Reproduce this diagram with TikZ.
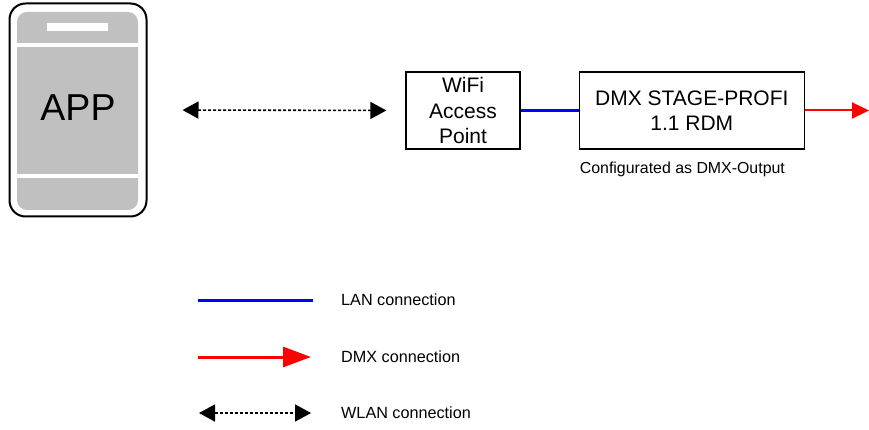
\documentclass[tikz,border=0pt]{standalone}
\usepackage{fontspec}
\setmainfont{Liberation Sans}
\usetikzlibrary{arrows.meta,positioning}
\definecolor{phonegray}{RGB}{192,192,192}
\tikzset{
  box/.style={draw, line width=1.3pt, align=center, inner sep=0pt, minimum height=77pt, font=\fontsize{21}{25.5}\selectfont},
  lan/.style={blue, line width=3pt},
  dmxline/.style={red, line width=2pt, -{Triangle[length=17pt,width=16pt]}},
  dmxkey/.style={red, line width=3pt, -{Triangle[length=28pt,width=20pt]}},
  wlan/.style={line width=1.6pt, dash pattern=on 3pt off 2pt, {Triangle[length=16pt,width=17pt]}-{Triangle[length=16pt,width=17pt]}},
  legendtext/.style={anchor=west, inner sep=0pt, font=\fontsize{16.2}{19}\selectfont},
}
\begin{document}
\begin{tikzpicture}[x=1pt, y=-1pt]
        \useasboundingbox (0,0) rectangle (869,430);

        % 携帯端末の描画
        \node[draw, line width=2pt, rounded corners=16pt, minimum width=137pt, minimum height=213pt] (phone) at (78,110) {};
        \fill[phonegray, rounded corners=10pt] (17,12) rectangle (138,210);
        \fill[white] (17,43) rectangle (138,47);
        \fill[white] (17,174) rectangle (138,178);
        \fill[white] (47,23) rectangle (108,31);
        \node[font=\fontsize{37.5}{40}\selectfont] (app) at (78,108) {APP};

        % 機器の描画
        \node[box, minimum width=114pt] (wifi) at (463,110.5) {WiFi\\Access\\Point};
        \node[box, minimum width=225pt, right=58pt of wifi] (dmx) {DMX STAGE-PROFI\\1.1 RDM};
        \node[anchor=base west, inner sep=0pt, font=\fontsize{15.9}{18}\selectfont] (note) at ([xshift=1pt, yshift=-24pt]dmx.south west) {Configurated as DMX-Output};

        % 接続の描画
        \draw[wlan, shorten <=35pt, shorten >=19pt] (phone.east) -- (wifi.west);
        \draw[lan] (wifi.east) -- (dmx.west);
        \coordinate (dmxout) at (869,110.5);
        \draw[dmxline] (dmx.east) -- (dmxout);

        % 凡例
        \coordinate (lanA) at (198,300);
        \coordinate (lanB) at (313,300);
        \coordinate (dmxA) at (198,357);
        \coordinate (dmxB) at (311,357);
        \coordinate (wlanA) at (199,413);
        \coordinate (wlanB) at (311,413);
        \draw[lan] (lanA) -- (lanB);
        \draw[dmxkey] (dmxA) -- (dmxB);
        \draw[wlan] (wlanA) -- (wlanB);
        \node[legendtext] (lanlabel) at (341,300) {LAN connection};
        \node[legendtext] (dmxlabel) at (341,357) {DMX connection};
        \node[legendtext] (wlanlabel) at (341,413) {WLAN connection};

\end{tikzpicture}
\end{document}
